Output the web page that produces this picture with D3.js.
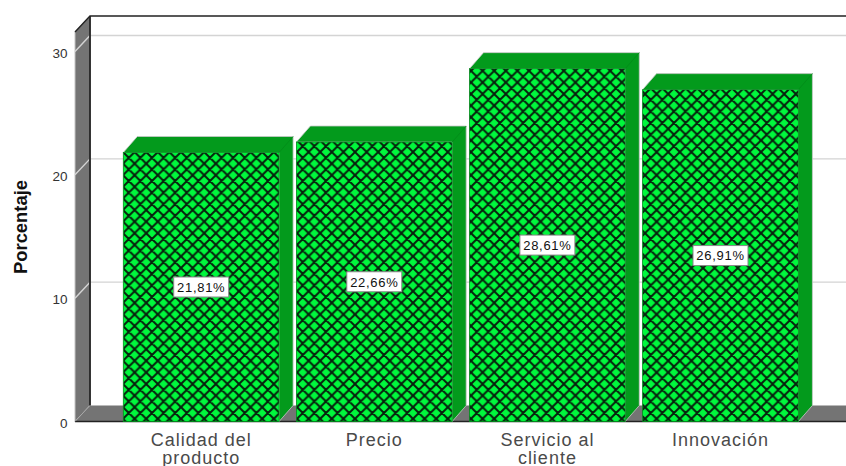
<!DOCTYPE html>
<html><head><meta charset="utf-8">
<style>html,body{margin:0;padding:0;background:#fff}svg{display:block}text{font-family:"Liberation Sans",Arial,sans-serif}</style>
<script src="https://cdn.jsdelivr.net/npm/d3@7"></script></head>
<body><div id="chart"></div>
<script>
const categories = [["Calidad del","producto"],["Precio"],["Servicio al","cliente"],["Innovación"]];
const values = [21.81,22.66,28.61,26.91];
const valueLabels = ["21,81%","22,66%","28,61%","26,91%"];
const yTicks = [0,10,20,30];
const W=846,H=466,dx=15,dy=16,bdx=14;
const svg=d3.select("#chart").append("svg").attr("width",W).attr("height",H);
const x=d3.scaleBand().domain(d3.range(categories.length)).range([114.65,807.05]).paddingInner(0.1).paddingOuter(0.05);
const y=d3.scaleLinear().domain([0,30]).range([421.5,51.5]);
const defs=svg.append("defs");
const s=11.6;
const p=defs.append("pattern").attr("id","hatch").attr("patternUnits","userSpaceOnUse").attr("width",s).attr("height",s).attr("x",123).attr("y",152);
p.append("rect").attr("width",s).attr("height",s).attr("fill","#00f83c");
p.append("path").attr("d",`M0,0L${s},${s}M${s},0L0,${s}M-2,${s-2}L2,${s+2}M${s-2},-2L${s+2},2M${s-2},${s+2}L${s+2},${s-2}M-2,2L2,-2`).attr("stroke","#06200c").attr("stroke-width",2).attr("fill","none");
const x0=75,x1=W,yb=y(0);
const topY=16, wallTop=topY+dy;
svg.append("path").attr("d",`M${x0},${wallTop}L${x0+dx},${topY}L${x0+dx},${yb-dy}L${x0},${yb}Z`).attr("fill","#747474").attr("stroke","#c4c4c4").attr("stroke-width",1);
svg.append("path").attr("d",`M${x0},${yb}L${x0+dx},${yb-dy}L${x1},${yb-dy}L${x1},${yb}Z`).attr("fill","#747474");
const ticks=yTicks.filter(d=>d>0);
svg.selectAll(".g").data(ticks).join("path").attr("fill","none").attr("stroke","#d4d4d4").attr("stroke-width",1.4)
 .attr("d",d=>`M${x0},${y(d)}L${x0+dx},${y(d)-dy}L${x1},${y(d)-dy}`);
svg.append("path").attr("d",`M${x0},${wallTop}L${x0+dx},${topY}L${x1},${topY}`).attr("fill","none").attr("stroke","#222").attr("stroke-width",1.4);
svg.append("path").attr("d",`M${x0+dx},${topY}L${x0+dx},${yb-dy}`).attr("stroke","#222").attr("stroke-width",1.8);
svg.append("path").attr("d",`M${x0},${yb}L${x1},${yb}`).attr("stroke","#222").attr("stroke-width",1.4);
svg.append("path").attr("d",`M${x0},${yb}L${x0+dx},${yb-dy}`).attr("stroke","#aaa").attr("stroke-width",.7);
const bars=svg.selectAll(".bar").data(values).join("g");
bars.append("path").attr("fill","#039a1c").attr("stroke","#c8c8c8").attr("stroke-width",.8)
 .attr("d",(d,i)=>{const a=x(i),b=a+x.bandwidth(),t=y(d);return `M${a},${t}L${a+bdx},${t-dy}L${b+bdx},${t-dy}L${b+bdx},${yb-dy}L${b},${yb}L${b},${t}Z`;});
bars.append("path").attr("stroke","#028a18").attr("stroke-width",.8).attr("fill","none")
 .attr("d",(d,i)=>{const b=x(i)+x.bandwidth(),t=y(d);return `M${b},${t}L${b+bdx},${t-dy}`;});
bars.append("rect").attr("x",(d,i)=>x(i)).attr("y",d=>y(d)).attr("width",x.bandwidth()).attr("height",d=>yb-y(d)).attr("fill","url(#hatch)").attr("stroke","#038a1c").attr("stroke-width",.8);
const lab=svg.selectAll(".lab").data(values).join("g").attr("transform",(d,i)=>`translate(${x(i)+x.bandwidth()/2},${(y(d)+yb)/2})`);
lab.append("rect").attr("x",-27.5).attr("y",-10).attr("width",55).attr("height",20).attr("fill","#fff").attr("stroke","#888").attr("stroke-width",1);
lab.append("text").attr("text-anchor","middle").attr("y",4.8).attr("font-size",13).attr("letter-spacing",.7).attr("fill","#111").text((d,i)=>valueLabels[i]);
svg.selectAll(".yt").data(yTicks).join("text").attr("x",67.5).attr("y",d=>y(d)+6.2).attr("text-anchor","end").attr("font-size",13.5).attr("fill","#333").text(d=>d);
svg.append("text").attr("transform","translate(27,227) rotate(-90)").attr("text-anchor","middle").attr("font-size",18).attr("font-weight","bold").attr("fill","#111").attr("textLength",94).attr("lengthAdjust","spacingAndGlyphs").text("Porcentaje");
const cat=svg.selectAll(".cat").data(categories).join("text").attr("text-anchor","middle").attr("font-size",18).attr("letter-spacing",1).attr("fill","#4a4a4a");
cat.selectAll("tspan").data((d,i)=>d.map(t=>({t,i}))).join("tspan").attr("x",d=>x(d.i)+x.bandwidth()/2).attr("y",(d,j)=>446+j*17.5).text(d=>d.t);
</script></body></html>
